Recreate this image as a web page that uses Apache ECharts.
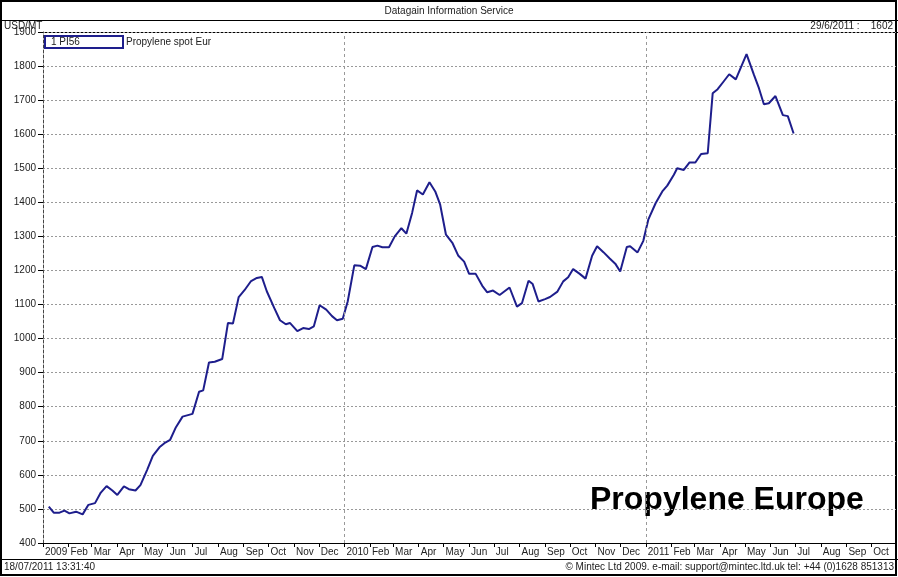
<!DOCTYPE html>
<html>
<head>
<meta charset="utf-8">
<title>Propylene Europe</title>
<script src="https://cdn.jsdelivr.net/npm/echarts@6/dist/echarts.min.js"></script>
<style>
  html, body { margin: 0; padding: 0; background: #fff; }
  #chart { width: 898px; height: 577px; }
</style>
</head>
<body>
<div id="chart"></div>
<script>
// weekly spot price, USD/MT
const dates = [
  '2009-01-08', '2009-01-14', '2009-01-21', '2009-01-27', '2009-02-02', '2009-02-10', '2009-02-18', '2009-02-25',
  '2009-03-05', '2009-03-12', '2009-03-19', '2009-03-26', '2009-04-01', '2009-04-09', '2009-04-15', '2009-04-23',
  '2009-04-29', '2009-05-07', '2009-05-14', '2009-05-22', '2009-05-28', '2009-06-04', '2009-06-11', '2009-06-19',
  '2009-07-01', '2009-07-09', '2009-07-14', '2009-07-21', '2009-07-28', '2009-08-06', '2009-08-13', '2009-08-19',
  '2009-08-26', '2009-09-02', '2009-09-10', '2009-09-17', '2009-09-23', '2009-09-29', '2009-10-08', '2009-10-15',
  '2009-10-22', '2009-10-27', '2009-11-05', '2009-11-12', '2009-11-19', '2009-11-25', '2009-12-02', '2009-12-10',
  '2009-12-17', '2009-12-23', '2009-12-30', '2010-01-05', '2010-01-13', '2010-01-20', '2010-01-27', '2010-02-04',
  '2010-02-10', '2010-02-16', '2010-02-24', '2010-03-03', '2010-03-11', '2010-03-17', '2010-03-24', '2010-03-30',
  '2010-04-06', '2010-04-14', '2010-04-21', '2010-04-27', '2010-05-04', '2010-05-12', '2010-05-19', '2010-05-26',
  '2010-06-01', '2010-06-09', '2010-06-17', '2010-06-23', '2010-06-30', '2010-07-08', '2010-07-20', '2010-07-29',
  '2010-08-04', '2010-08-12', '2010-08-17', '2010-08-24', '2010-09-01', '2010-09-07', '2010-09-16', '2010-09-23',
  '2010-09-29', '2010-10-05', '2010-10-13', '2010-10-20', '2010-10-28', '2010-11-03', '2010-11-11', '2010-11-18',
  '2010-11-25', '2010-12-01', '2010-12-09', '2010-12-13', '2010-12-22', '2010-12-29', '2011-01-04', '2011-01-13',
  '2011-01-21', '2011-01-27', '2011-02-04', '2011-02-08', '2011-02-16', '2011-02-23', '2011-03-02', '2011-03-09',
  '2011-03-17', '2011-03-23', '2011-03-29', '2011-04-05', '2011-04-12', '2011-04-20', '2011-05-03', '2011-05-12',
  '2011-05-18', '2011-05-24', '2011-05-30', '2011-06-07', '2011-06-16', '2011-06-22', '2011-06-29'
];
const prices = [
  507, 489, 489, 495, 487, 492, 484, 512,
  517, 548, 567, 554, 541, 566, 558, 554,
  570, 614, 656, 681, 693, 703, 740, 771,
  779, 844, 848, 930, 932, 940, 1046, 1044,
  1122, 1142, 1169, 1178, 1181, 1139, 1090, 1054,
  1042, 1046, 1022, 1031, 1028, 1036, 1098, 1085,
  1066, 1054, 1058, 1109, 1215, 1214, 1204, 1269,
  1273, 1268, 1268, 1300, 1324, 1308, 1369, 1435,
  1423, 1459, 1432, 1393, 1305, 1280, 1243, 1226,
  1190, 1190, 1155, 1136, 1141, 1128, 1150, 1094,
  1104, 1170, 1160, 1109, 1116, 1122, 1138, 1168,
  1180, 1204, 1190, 1176, 1243, 1271, 1253, 1236,
  1220, 1197, 1269, 1271, 1253, 1287, 1349, 1398,
  1432, 1449, 1481, 1500, 1495, 1517, 1517, 1542,
  1544, 1720, 1732, 1754, 1776, 1761, 1835, 1774,
  1735, 1688, 1691, 1712, 1656, 1653, 1602
];
const yearLines = ['2010-01-01', '2011-01-01'];
const monthNames = ['Jan', 'Feb', 'Mar', 'Apr', 'May', 'Jun', 'Jul', 'Aug', 'Sep', 'Oct', 'Nov', 'Dec'];

const FONT = '"Liberation Sans", Arial, sans-serif';
const SMALL = '10px ' + FONT;
const LINE = '#1e1e8c';

const chart = echarts.init(document.getElementById('chart'));

chart.setOption({
  animation: false,
  backgroundColor: '#fff',
  textStyle: { fontFamily: FONT },
  grid: { left: 43, right: 2, top: 32, bottom: 34, containLabel: false, outerBoundsMode: 'none' },
  xAxis: {
    type: 'time',
    min: '2009-01-01',
    max: '2011-10-31',
    minInterval: 28 * 86400000,
    maxInterval: 31 * 86400000,
    axisLine: { lineStyle: { color: '#000', width: 1 } },
    axisTick: { show: true, length: 4, lineStyle: { color: '#000' } },
    minorTick: { show: false },
    axisLabel: {
      color: '#222',
      fontSize: 10,
      fontFamily: FONT,
      margin: 4,
      align: 'left',
      padding: [0, 0, 0, 2],
      interval: 0,
      hideOverlap: false,
      showMaxLabel: false,
      formatter: function (val) {
        const d = new Date(val);
        return d.getMonth() === 0 ? String(d.getFullYear()) : monthNames[d.getMonth()];
      }
    },
    splitLine: { show: false }
  },
  yAxis: {
    type: 'value',
    min: 400,
    max: 1900,
    interval: 100,
    axisLine: { show: true, lineStyle: { color: '#444', type: [3, 2] } },
    axisTick: { show: true, length: 5, lineStyle: { color: '#000' } },
    axisLabel: {
      color: '#222', fontSize: 10, fontFamily: FONT, margin: 7,
      formatter: v => String(v)
    },
    splitLine: { lineStyle: { color: '#999', type: [2, 2], width: 1 } }
  },
  series: [{
    name: 'Propylene spot Eur',
    type: 'line',
    data: dates.map((d, i) => [d, prices[i]]),
    symbol: 'none',
    lineStyle: { color: LINE, width: 2 },
    itemStyle: { color: LINE },
    markLine: {
      silent: true,
      symbol: ['none', 'none'],
      label: { show: false },
      lineStyle: { color: '#999', type: [3, 3], width: 1 },
      data: yearLines.map(d => ({ xAxis: d }))
    }
  }],
  graphic: [
    // frame
    { type: 'rect', shape: { x: 1, y: 1, width: 895, height: 574 }, style: { fill: 'none', stroke: '#000', lineWidth: 2 }, silent: true },
    { type: 'line', shape: { x1: 0, y1: 20.5, x2: 898, y2: 20.5 }, style: { stroke: '#000', lineWidth: 1 } },
    { type: 'line', shape: { x1: 0, y1: 559.5, x2: 898, y2: 559.5 }, style: { stroke: '#000', lineWidth: 1 } },
    { type: 'line', shape: { x1: 43, y1: 32.5, x2: 898, y2: 32.5 }, style: { stroke: '#000', lineWidth: 1 } },
    // header
    { type: 'text', x: 449, y: 11, style: { text: 'Datagain Information Service', fill: '#222', font: SMALL, align: 'center', verticalAlign: 'middle' } },
    { type: 'text', x: 4, y: 26, style: { text: 'USD/MT', fill: '#222', font: SMALL, align: 'left', verticalAlign: 'middle' } },
    { type: 'text', x: 893, y: 26, style: { text: '29/6/2011 :    1602', fill: '#222', font: SMALL, align: 'right', verticalAlign: 'middle' } },
    // legend box
    { type: 'rect', shape: { x: 45, y: 36, width: 78, height: 12 }, style: { fill: '#fff', stroke: LINE, lineWidth: 2 } },
    { type: 'text', x: 51, y: 42.5, style: { text: '1 PI56', fill: '#222', font: SMALL, align: 'left', verticalAlign: 'middle' } },
    { type: 'text', x: 126, y: 42.5, style: { text: 'Propylene spot Eur', fill: '#222', font: SMALL, align: 'left', verticalAlign: 'middle' } },
    // big caption
    { type: 'text', x: 590, y: 500, style: { text: 'Propylene Europe', fill: '#000', font: 'bold 32px ' + FONT, align: 'left', verticalAlign: 'middle' } },
    // footer
    { type: 'text', x: 4, y: 567, style: { text: '18/07/2011 13:31:40', fill: '#222', font: SMALL, align: 'left', verticalAlign: 'middle' } },
    { type: 'text', x: 894, y: 567, style: { text: '\u00A9 Mintec Ltd 2009. e-mail: support@mintec.ltd.uk tel: +44 (0)1628 851313', fill: '#222', font: SMALL, align: 'right', verticalAlign: 'middle' } }
  ]
});
</script>
</body>
</html>
